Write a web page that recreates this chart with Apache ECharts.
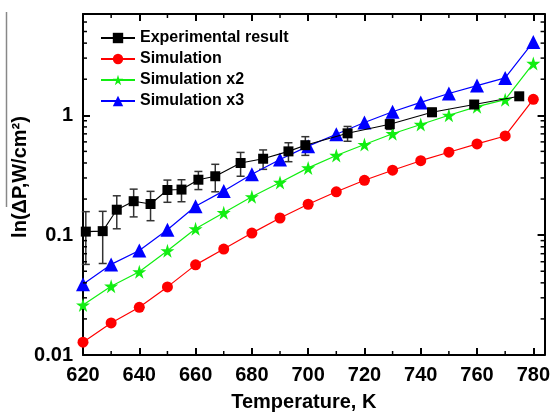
<!DOCTYPE html>
<html>
<head>
<meta charset="utf-8">
<script src="https://cdn.jsdelivr.net/npm/echarts@6/dist/echarts.min.js"></script>
<style>
  html, body { margin: 0; padding: 0; background: #fff; }
  #chart { width: 553px; height: 417px; }
</style>
</head>
<body>
<div id="chart"></div>
<script>
// temperatures, K
var simT = [620, 630, 640, 650, 660, 670, 680, 690, 700, 710, 720, 730, 740, 750, 760, 770, 780];
var simulation = [0.0128, 0.0185, 0.0250, 0.0370, 0.0565, 0.0765, 0.104, 0.139, 0.181, 0.230, 0.287, 0.348, 0.418, 0.492, 0.577, 0.672, 1.36];
var simulationX2 = [0.0261, 0.0375, 0.0495, 0.0741, 0.113, 0.154, 0.209, 0.275, 0.364, 0.462, 0.570, 0.702, 0.838, 1.00, 1.18, 1.35, 2.71];
var simulationX3 = [0.0389, 0.0570, 0.0745, 0.111, 0.174, 0.234, 0.322, 0.428, 0.553, 0.695, 0.870, 1.07, 1.28, 1.52, 1.77, 2.05, 4.09];

var expT = [621, 627, 632, 638, 644, 650, 655, 661, 667, 676, 684, 693, 699, 714, 729, 744, 759, 775];
var expVal = [0.107, 0.108, 0.163, 0.192, 0.182, 0.238, 0.240, 0.290, 0.310, 0.400, 0.434, 0.500, 0.563, 0.707, 0.843, 1.06, 1.23, 1.44];
var expErr = [0.05, 0.05, 0.05, 0.05, 0.05, 0.05, 0.05, 0.05, 0.08, 0.09, 0.08, 0.09, 0.10, 0.10, 0.08, 0.08, 0.06, 0.05];

var xMinorTicks = [630, 650, 670, 690, 710, 730, 750, 770];
var yMinorTicks = [0.02, 0.03, 0.04, 0.05, 0.06, 0.07, 0.08, 0.09,
                   0.2, 0.3, 0.4, 0.5, 0.6, 0.7, 0.8, 0.9,
                   2, 3, 4, 5, 6];

var FONT = "'Liberation Sans', Arial, sans-serif";
var STAR = 'path://M50,0 L61,35 L98,35 L68,57 L79,91 L50,70 L21,91 L32,57 L2,35 L39,35 Z';

function pairs(xs, ys) {
  return xs.map(function (x, i) { return [x, ys[i]]; });
}

var chart = echarts.init(document.getElementById('chart'), null, { renderer: 'canvas' });

var xBase = {
  type: 'value', min: 620, max: 784, interval: 20,
  axisLine: { show: true, onZero: false, lineStyle: { color: '#000', width: 2 } },
  axisTick: { show: true, inside: true, length: 7, lineStyle: { color: '#000', width: 2 } },
  splitLine: { show: false }
};
var yBase = {
  type: 'log', logBase: 10, min: 0.01, max: 7,
  axisLine: { show: true, lineStyle: { color: '#000', width: 2 } },
  axisTick: { show: true, inside: true, length: 7, lineStyle: { color: '#000', width: 2 } },
  splitLine: { show: false }
};

var options = {
  animation: false,
  grid: { left: 83, right: 7, top: 14, bottom: 58 },
  legend: {
    orient: 'vertical',
    left: 95, top: 25,
    itemWidth: 34, itemHeight: 13, itemGap: 5,
    data: ['Experimental result', 'Simulation', 'Simulation x2', 'Simulation x3'],
    textStyle: { fontFamily: FONT, fontWeight: 'bold', fontSize: 16, color: '#000' }
  },
  xAxis: [
    Object.assign({}, xBase, {
      position: 'bottom',
      axisLabel: {
        margin: 10, color: '#000', fontFamily: FONT, fontWeight: 'bold', fontSize: 20,
        formatter: function (v) { return v % 20 === 0 && v <= 780 ? String(v) : ''; }
      },
      name: 'Temperature, K', nameLocation: 'middle', nameGap: 37,
      nameTextStyle: { color: '#000', fontFamily: FONT, fontWeight: 'bold', fontSize: 20, padding: [0, 20, 0, 0] }
    }),
    Object.assign({}, xBase, { position: 'top', axisLabel: { show: false } })
  ],
  yAxis: [
    Object.assign({}, yBase, {
      position: 'left',
      axisLabel: {
        margin: 10, color: '#000', fontFamily: FONT, fontWeight: 'bold', fontSize: 20,
        formatter: function (v) {
          var l = Math.log10(v);
          return Math.abs(l - Math.round(l)) < 1e-6 ? String(Number(v.toPrecision(6))) : '';
        }
      }
    }),
    Object.assign({}, yBase, { position: 'right', axisLabel: { show: false } })
  ],
  graphic: [
    {
      type: 'line', silent: true,
      shape: { x1: 6.5, y1: 12, x2: 6.5, y2: 207 },
      style: { stroke: '#888', lineWidth: 1.5 }
    },
    {
      type: 'text', silent: true,
      x: 20, y: 177, rotation: Math.PI / 2,
      style: {
        text: 'ln(ΔP,W/cm²)', fill: '#000',
        font: 'bold 20px ' + FONT, align: 'center', verticalAlign: 'middle'
      }
    }
  ],
  series: [
    {
      name: 'minorY', type: 'custom', silent: true, z: 5,
      data: yMinorTicks.map(function (v) { return [620, v]; }),
      renderItem: function (params, api) {
        var cs = params.coordSys;
        var p = api.coord([api.value(0), api.value(1)]);
        var st = { stroke: '#000', lineWidth: 1.5 };
        return {
          type: 'group', children: [
            { type: 'line', shape: { x1: cs.x, y1: p[1], x2: cs.x + 4, y2: p[1] }, style: st },
            { type: 'line', shape: { x1: cs.x + cs.width - 4, y1: p[1], x2: cs.x + cs.width, y2: p[1] }, style: st }
          ]
        };
      }
    },
    {
      name: 'minorX', type: 'custom', silent: true, z: 5,
      data: xMinorTicks.map(function (t) { return [t, 1]; }),
      renderItem: function (params, api) {
        var cs = params.coordSys;
        var p = api.coord([api.value(0), api.value(1)]);
        var st = { stroke: '#000', lineWidth: 1.5 };
        return {
          type: 'group', children: [
            { type: 'line', shape: { x1: p[0], y1: cs.y + cs.height - 4, x2: p[0], y2: cs.y + cs.height }, style: st },
            { type: 'line', shape: { x1: p[0], y1: cs.y, x2: p[0], y2: cs.y + 4 }, style: st }
          ]
        };
      }
    },
    {
      name: 'errors', type: 'custom', silent: true, z: 2,
      data: expT.map(function (t, i) { return [t, expVal[i] - expErr[i], expVal[i] + expErr[i]]; }),
      renderItem: function (params, api) {
        var lo = api.coord([api.value(0), api.value(1)]);
        var hi = api.coord([api.value(0), api.value(2)]);
        var st = { stroke: '#333', lineWidth: 1.5 };
        return {
          type: 'group', children: [
            { type: 'line', shape: { x1: lo[0], y1: lo[1], x2: hi[0], y2: hi[1] }, style: st },
            { type: 'line', shape: { x1: lo[0] - 4, y1: lo[1], x2: lo[0] + 4, y2: lo[1] }, style: st },
            { type: 'line', shape: { x1: hi[0] - 4, y1: hi[1], x2: hi[0] + 4, y2: hi[1] }, style: st }
          ]
        };
      }
    },
    {
      name: 'Experimental result', type: 'line', z: 4,
      data: pairs(expT, expVal),
      symbol: 'rect', symbolSize: 10,
      itemStyle: { color: '#000' },
      lineStyle: { color: '#000', width: 1.1 }
    },
    {
      name: 'Simulation', type: 'line', z: 3,
      data: pairs(simT, simulation),
      symbol: 'circle', symbolSize: 11,
      itemStyle: { color: '#ff0000' },
      lineStyle: { color: '#ff0000', width: 1.2 }
    },
    {
      name: 'Simulation x2', type: 'line', z: 3,
      data: pairs(simT, simulationX2),
      symbol: STAR, symbolSize: 14,
      itemStyle: { color: '#11ee11' },
      lineStyle: { color: '#11ee11', width: 1.2 }
    },
    {
      name: 'Simulation x3', type: 'line', z: 3,
      data: pairs(simT, simulationX3),
      symbol: 'triangle', symbolSize: 14,
      itemStyle: { color: '#0000ff' },
      lineStyle: { color: '#0000ff', width: 1.2 }
    }
  ]
};

chart.setOption(options);
</script>
</body>
</html>
